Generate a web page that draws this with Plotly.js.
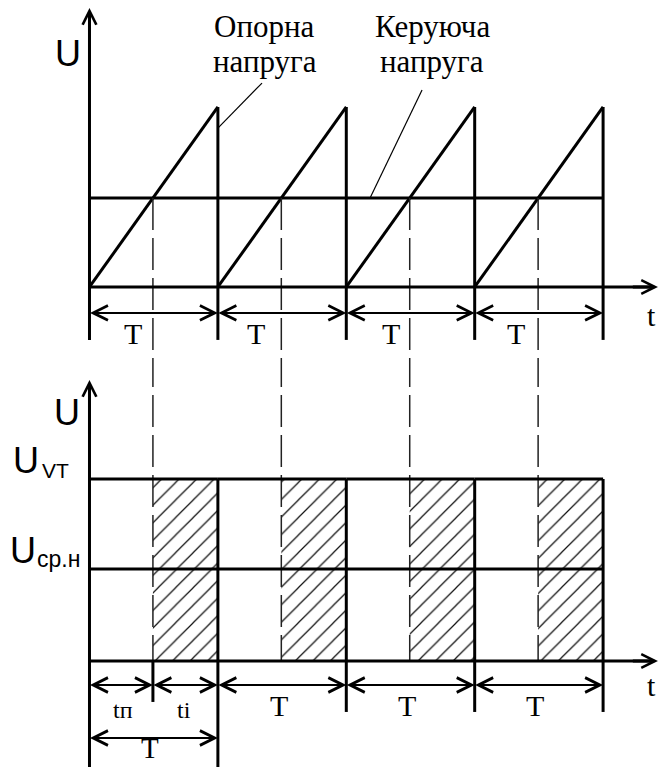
<!DOCTYPE html>
<html><head><meta charset="utf-8">
<script src="https://cdn.plot.ly/plotly-3.0.1.min.js"></script>
<style>html,body{margin:0;padding:0;background:#fff;}#chart{width:660px;height:767px;}</style>
</head><body><div id="chart"></div>
<script>
// ---------- data (time in periods T, voltage in relative units) ----------
const periodStart    = [0, 1, 2, 3];
const periodEnd      = [1, 2, 3, 4];
const sawtoothPeak   = [1, 1, 1, 1];               // опорна напруга (peak of each ramp)
const controlVoltage = [0.494, 0.494, 0.494, 0.494]; // керуюча напруга
const pulseLevel     = [1, 1, 1, 1];               // U_VT
const meanVoltage    = [0.506, 0.506, 0.506, 0.506]; // U_ср.н
const topDimLabels    = ['T', 'T', 'T', 'T'];
const bottomDimLabels = ['tп', 'ti', 'T', 'T', 'T'];

// ---------- layout constants ----------
const W = 660, H = 767;
const X_RANGE = [-0.697, 4.4432];
const SPLIT = 0.53064;
const Y1_RANGE = [-0.4056, 1.5944];
const Y2_RANGE = [-0.5824, 1.6538];
const TOP_EXT = -0.294, TOP_DIM = -0.144, TOP_AXIS_TIP = 1.55;
const BOT_EXT = -0.28, BOT_EXT_SHORT = -0.225, BOT_DIM = -0.132, BOT_DIM2 = -0.423, BOT_AXIS_TIP = 1.544;
const T_AXIS_TIP = 4.4276;
const SERIF = 'Liberation Serif, Times New Roman, serif';
const SANS = 'Liberation Sans, Arial, sans-serif';

const n = periodStart.length;
const cross = periodStart.map((s, i) => s + controlVoltage[i] / sawtoothPeak[i] * (periodEnd[i] - s));

function flat(f) { const out = []; for (let i = 0; i < n; i++) out.push(...f(i), null); return out; }
function line(x, y, yaxis, width, color, dash) {
  return {type: 'scatter', mode: 'lines', x, y, yaxis, xaxis: 'x', hoverinfo: 'skip',
    line: {width, color, dash: dash || 'solid'}, connectgaps: false};
}

const traces = [];
// bottom: hatched pulses (drawn first, under lines)
traces.push({
  type: 'bar', xaxis: 'x', yaxis: 'y2', hoverinfo: 'skip',
  x: cross.map((c, i) => (c + periodEnd[i]) / 2),
  width: cross.map((c, i) => periodEnd[i] - c),
  y: pulseLevel, base: pulseLevel.map(() => 0),
  marker: {color: 'white', line: {width: 0},
    pattern: {shape: '/', size: 12.4, solidity: 0.1, fgcolor: '#111', bgcolor: 'white'}}
});
// top: sawtooth ramps
traces.push(line(flat(i => [periodStart[i], periodEnd[i]]), flat(i => [0, sawtoothPeak[i]]), 'y', 3, '#000'));
// top: vertical drops / extension lines
traces.push(line(flat(i => [periodEnd[i], periodEnd[i]]), flat(i => [sawtoothPeak[i], TOP_EXT]), 'y', 3, '#000'));
// top: control voltage
traces.push(line(flat(i => [periodStart[i], periodEnd[i]]), flat(i => [controlVoltage[i], controlVoltage[i]]), 'y', 3, '#000'));
// top: dashed projection lines
traces.push(line(flat(i => [cross[i], cross[i]]), flat(i => [controlVoltage[i], -1]), 'y', 1.5, '#222', '32px,8px'));
// top: horizontal axis
traces.push(line([0, T_AXIS_TIP - 0.03], [0, 0], 'y', 3, '#000'));
// top: vertical axis
traces.push(line([0, 0], [TOP_EXT, TOP_AXIS_TIP - 0.05], 'y', 3, '#000'));

// bottom: dashed projection lines (left edge of pulses)
traces.push(line(flat(i => [cross[i], cross[i]]), flat(i => [3, 0]), 'y2', 1.5, '#222', '32px,8px'));
// bottom: pulse level and mean level
traces.push(line(flat(i => [periodStart[i], periodEnd[i]]), flat(i => [pulseLevel[i], pulseLevel[i]]), 'y2', 3, '#000'));
traces.push(line(flat(i => [periodStart[i], periodEnd[i]]), flat(i => [meanVoltage[i], meanVoltage[i]]), 'y2', 3, '#000'));
// bottom: period boundaries with extension lines
traces.push(line(flat(i => [periodEnd[i], periodEnd[i]]), flat(i => [pulseLevel[i], i === 0 ? -1 : BOT_EXT]), 'y2', 3, '#000'));
// bottom: extension for t_п
traces.push(line([cross[0], cross[0]], [0, BOT_EXT_SHORT], 'y2', 3, '#000'));
// bottom: axes
traces.push(line([0, T_AXIS_TIP - 0.03], [0, 0], 'y2', 3, '#000'));
traces.push(line([0, 0], [-1, BOT_AXIS_TIP - 0.05], 'y2', 3, '#000'));

// ---------- annotations ----------
const ann = [];
function arrow(x0, y0, x1, y1, yref, w, size, both) {
  const a = {x: x1, y: y1, ax: x0, ay: y0, xref: 'x', yref, axref: 'x', ayref: yref,
    text: '', showarrow: true, arrowhead: 5, arrowwidth: w, arrowsize: size,
    arrowcolor: '#000', borderpad: 0, standoff: 0};
  if (both) { a.arrowside = 'end+start'; a.startarrowhead = 5; a.startarrowsize = size; a.startstandoff = 0; }
  return a;
}
// axis arrows
ann.push(arrow(T_AXIS_TIP - 0.2, 0, T_AXIS_TIP, 0, 'y', 3, 0.9, false));
ann.push(arrow(0, TOP_AXIS_TIP - 0.3, 0, TOP_AXIS_TIP, 'y', 3, 0.9, false));
ann.push(arrow(T_AXIS_TIP - 0.2, 0, T_AXIS_TIP, 0, 'y2', 3, 0.9, false));
ann.push(arrow(0, BOT_AXIS_TIP - 0.3, 0, BOT_AXIS_TIP, 'y2', 3, 0.9, false));
// top dimension arrows
for (let i = 0; i < n; i++) ann.push(arrow(periodStart[i], TOP_DIM, periodEnd[i], TOP_DIM, 'y', 2, 1.45, true));
// bottom dimension arrows
ann.push(arrow(periodStart[0], BOT_DIM, cross[0], BOT_DIM, 'y2', 2, 1.45, true));
ann.push(arrow(cross[0], BOT_DIM, periodEnd[0], BOT_DIM, 'y2', 2, 1.45, true));
for (let i = 1; i < n; i++) ann.push(arrow(periodStart[i], BOT_DIM, periodEnd[i], BOT_DIM, 'y2', 2, 1.45, true));
ann.push(arrow(periodStart[0], BOT_DIM2, periodEnd[0], BOT_DIM2, 'y2', 2, 1.45, true));

function label(text, px, py, size, family) {
  return {text, x: px / W, y: 1 - py / H, xref: 'paper', yref: 'paper', showarrow: false,
    xanchor: 'center', yanchor: 'middle', font: {size, family, color: '#000'}};
}
ann.push(label('Опорна', 264, 27, 31, SERIF));
ann.push(label('напруга', 265, 62, 31, SERIF));
ann.push(label('Керуюча', 432, 27, 31, SERIF));
ann.push(label('напруга', 432, 62, 31, SERIF));
ann.push(label('U', 68, 54, 36, SANS));
ann.push(label('U', 67, 412, 36, SANS));
ann.push(label('U', 26, 460, 36, SANS));
ann.push(label('VT', 55, 471, 21, SANS));
ann.push(label('U', 23, 550, 36, SANS));
ann.push(label('ср.н', 58, 559, 23, SANS));
ann.push(label('t', 651, 315, 30, SERIF));
ann.push(label('t', 651, 685, 30, SERIF));
const topLabelX = [133, 256, 391, 516];
topDimLabels.forEach((t, i) => ann.push(label(t, topLabelX[i], 333, 30, SERIF)));
const botLabelX = [123, 184, 279, 407, 535];
const botLabelY = [710, 710, 705, 705, 705];
const botLabelSize = [24, 24, 30, 30, 30];
bottomDimLabels.forEach((t, i) => ann.push(label(t, botLabelX[i], botLabelY[i], botLabelSize[i], SERIF)));
ann.push(label('T', 150, 748, 29, SERIF));

// leader lines
const shapes = [
  {type: 'line', xref: 'x', yref: 'y', x0: periodEnd[0], y0: 0.883, x1: 1.3435, y1: 1.133, line: {width: 1.2, color: '#000'}},
  {type: 'line', xref: 'x', yref: 'y', x0: 2.185, y0: controlVoltage[1], x1: 2.59, y1: 1.094, line: {width: 1.2, color: '#000'}}
];

const layout = {
  width: W, height: H, margin: {l: 0, r: 0, t: 0, b: 0},
  paper_bgcolor: '#fff', plot_bgcolor: '#fff', showlegend: false, hovermode: false,
  barmode: 'overlay',
  xaxis: {range: X_RANGE, visible: false, fixedrange: true},
  yaxis: {domain: [SPLIT, 1], range: Y1_RANGE, visible: false, fixedrange: true},
  yaxis2: {domain: [0, SPLIT], range: Y2_RANGE, visible: false, fixedrange: true},
  annotations: ann, shapes
};
Plotly.newPlot('chart', traces, layout, {displayModeBar: false, staticPlot: true});
</script></body></html>
